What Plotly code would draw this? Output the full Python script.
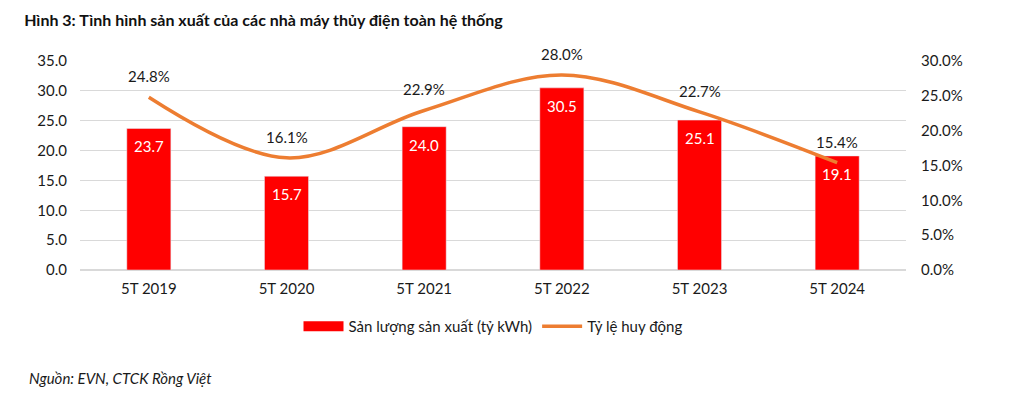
import plotly.graph_objects as go

categories = ["5T 2019", "5T 2020", "5T 2021", "5T 2022", "5T 2023", "5T 2024"]
output_values = [23.7, 15.7, 24.0, 30.5, 25.1, 19.1]
rate_values = [24.8, 16.1, 22.9, 28.0, 22.7, 15.4]
left_ticks = [0, 5, 10, 15, 20, 25, 30, 35]
right_ticks = [0, 5, 10, 15, 20, 25, 30]

FONT = "Lato"
fig = go.Figure()

fig.add_trace(go.Bar(
    x=categories, y=output_values, name="Sản lượng sản xuất (tỷ kWh)",
    marker_color="#FF0000", width=0.32, showlegend=False,
    yaxis="y",
))
# legend swatch for bars (wide rectangle like the reference)
fig.add_trace(go.Scatter(
    x=[categories[0]], y=[None], name="Sản lượng sản xuất (tỷ kWh)",
    mode="lines", line=dict(color="#FF0000", width=10), yaxis="y",
))

fig.add_trace(go.Scatter(
    x=categories, y=rate_values, name="Tỷ lệ huy động",
    mode="lines", line=dict(color="#ED7D31", width=3.5, shape="spline", smoothing=1.0),
    yaxis="y2",
))

for c, v in zip(categories, output_values):
    fig.add_annotation(x=c, y=v, yref="y", text=f"{v:.1f}", showarrow=False,
                       yshift=-18, font=dict(size=15, color="white", family=FONT))

for c, v in zip(categories, rate_values):
    fig.add_annotation(x=c, y=v, yref="y2", text=f"{v:.1f}%", showarrow=False,
                       yshift=21, font=dict(size=15, color="#1a1a1a", family=FONT))

fig.update_layout(
    width=1008, height=390,
    margin=dict(l=72, r=110, t=53, b=128),
    paper_bgcolor="white", plot_bgcolor="white",
    font=dict(family=FONT, size=15, color="#1a1a1a"),
    showlegend=True,
    legend=dict(orientation="h", x=0.5, xanchor="center", y=-0.27, yanchor="middle",
                font=dict(size=15, family=FONT), itemwidth=40, traceorder="normal"),
    xaxis=dict(showgrid=False, ticks="", showline=False, tickfont=dict(size=15),
               ticklabelstandoff=8),
    yaxis=dict(range=[0, 35], tickvals=left_ticks, tickformat=".1f",
               showgrid=True, gridcolor="#D9D9D9", gridwidth=1, zeroline=True,
               zerolinecolor="#D9D9D9", ticks="", ticklabelstandoff=12, tickfont=dict(size=15)),
    yaxis2=dict(range=[0, 30], tickvals=right_ticks, ticktext=[f"{t:.1f}%" for t in right_ticks],
                overlaying="y", side="right", showgrid=False, zeroline=False,
                ticks="", ticklabelstandoff=14, tickfont=dict(size=15)),
    title=dict(text="<b>Hình 3: Tình hình sản xuất của các nhà máy thủy điện toàn hệ thống</b>",
               x=0.016, xanchor="left", y=0.969, yanchor="middle",
               font=dict(size=16, family=FONT, color="#111111")),
)

fig.add_annotation(text="<i>Nguồn: EVN, CTCK Rồng Việt</i>", xref="paper", yref="paper",
                   x=-0.064, xanchor="left", y=-0.517, yanchor="middle", showarrow=False,
                   font=dict(size=15, family=FONT, color="#1a1a1a"))

fig.write_html("out.html")
